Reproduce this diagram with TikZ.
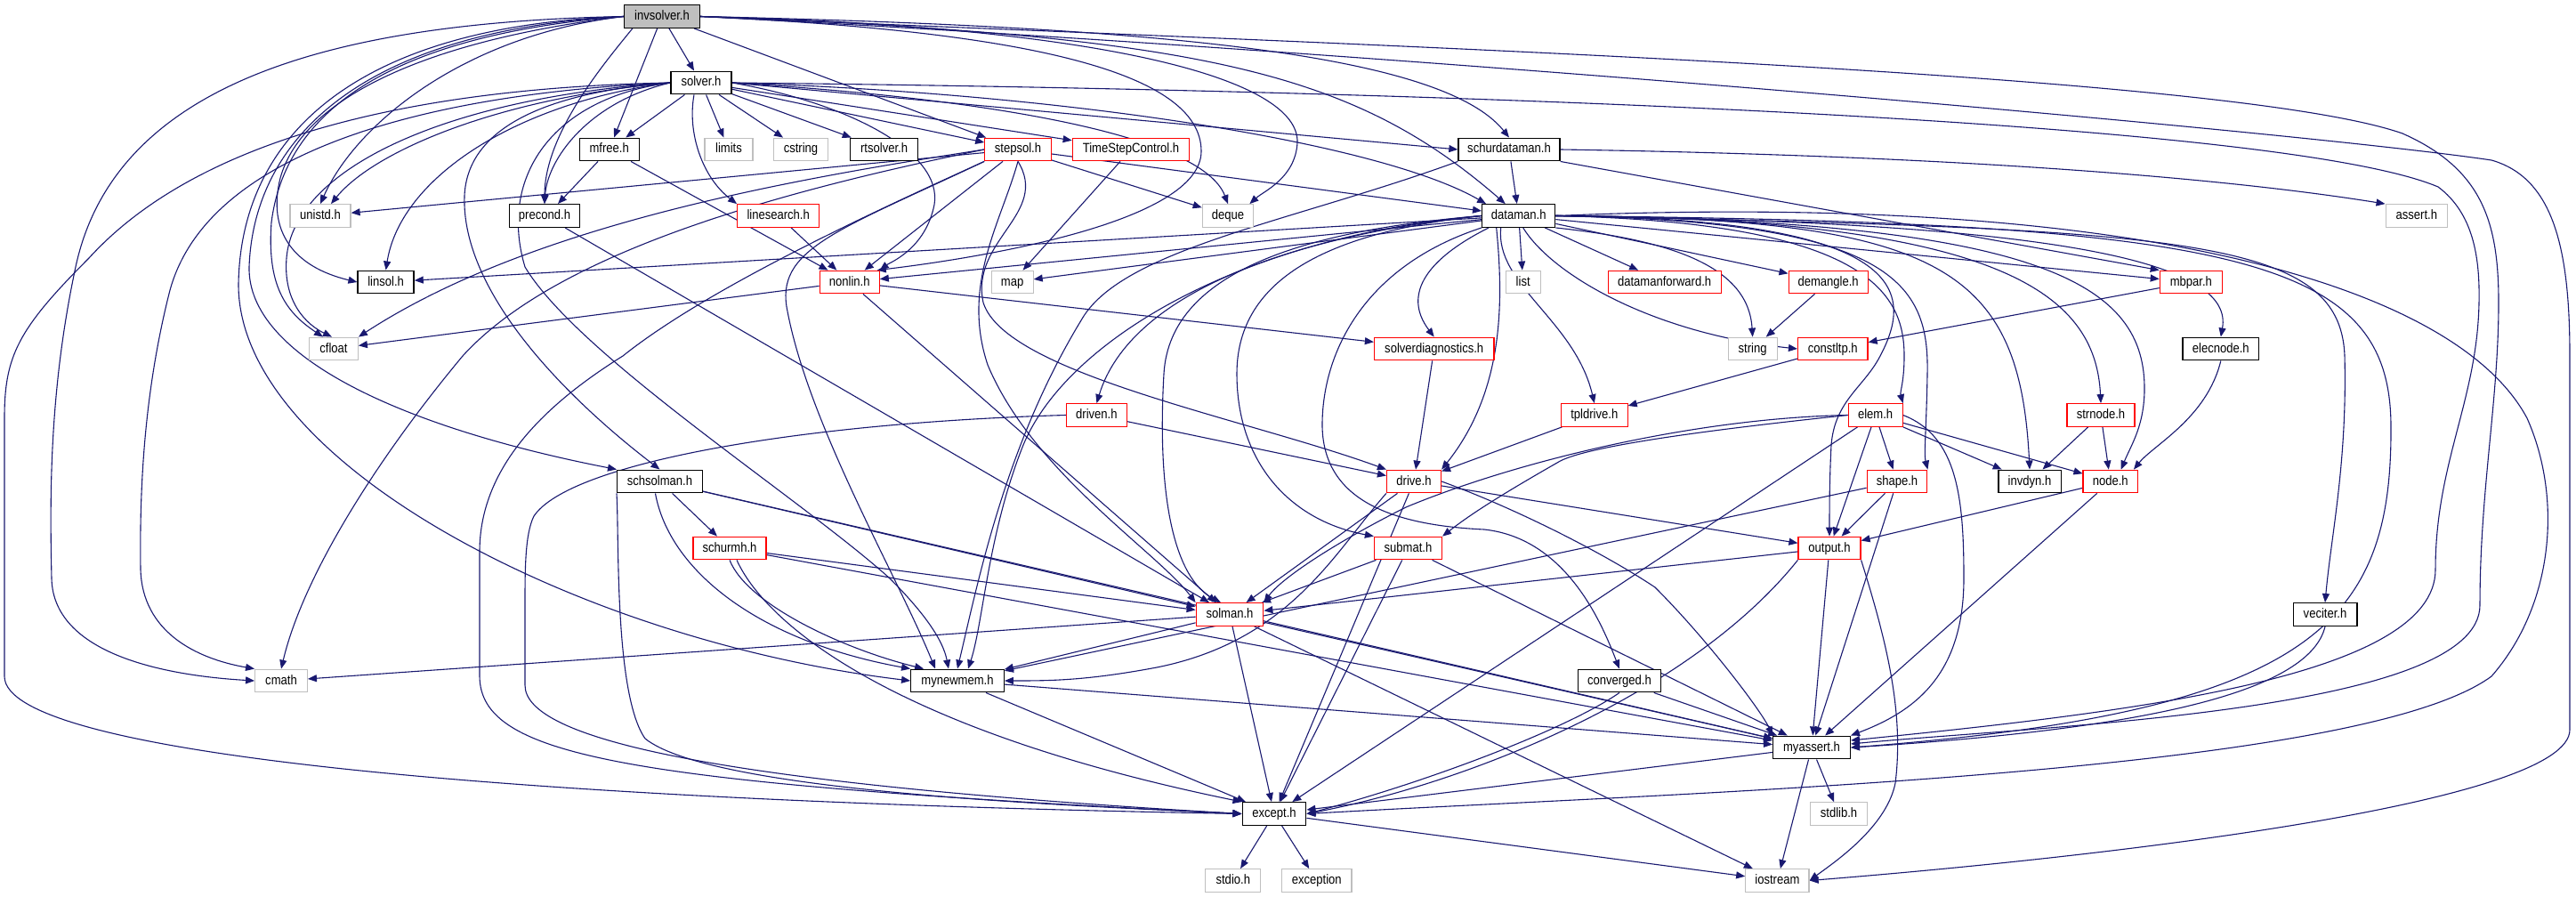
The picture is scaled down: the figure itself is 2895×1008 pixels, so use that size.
\documentclass[tikz,border=0pt]{standalone}
\usepackage{fontspec}
\newfontfamily\nf[FakeStretch=0.87]{Liberation Sans}
\usetikzlibrary{arrows.meta,calc,backgrounds}
\definecolor{edgec}{HTML}{191970}
\definecolor{gryb}{HTML}{BFBFBF}
\definecolor{redb}{HTML}{FF0000}
\tikzset{
  box/.style={draw=black, line width=1.35pt, minimum height=25.6pt, inner sep=0pt, text height=11pt, text depth=3pt, font=\nf\fontsize{15}{18}\selectfont, fill=white},
  rbox/.style={box, draw=redb, line width=1.2pt},
  gbox/.style={box, draw=gryb, line width=1.2pt},
  e/.style={draw=edgec, line width=1.1pt, -{Triangle[length=10pt,width=8pt]}},
}
\begin{document}
\begin{tikzpicture}[x=1pt,y=-1pt]
\useasboundingbox (0,0) rectangle (2895,1008);
% nodes
\node[box, fill=gryb, minimum width=85pt] (invsolver) at (744,18.5) {invsolver.h};
\node[box, minimum width=68pt] (solver) at (788,93) {solver.h};
\node[box, minimum width=67pt] (mfree) at (684.7,168) {mfree.h};
\node[gbox, minimum width=54pt] (limits) at (819,168) {limits};
\node[gbox, minimum width=61pt] (cstring) at (900,168) {cstring};
\node[box, minimum width=76pt] (rtsolver) at (993.6,168) {rtsolver.h};
\node[rbox, minimum width=74.5pt] (stepsol) at (1144,168) {stepsol.h};
\node[rbox, minimum width=131.5pt] (tsc) at (1271,168) {TimeStepControl.h};
\node[box, minimum width=114pt] (schurdataman) at (1696,168) {schurdataman.h};
\node[gbox, minimum width=68pt] (unistd) at (360,242.5) {unistd.h};
\node[box, minimum width=78.5pt] (precond) at (612,242.5) {precond.h};
\node[rbox, minimum width=92pt] (linesearch) at (874.7,242.5) {linesearch.h};
\node[gbox, minimum width=57.5pt] (deque) at (1380,242.5) {deque};
\node[box, minimum width=82pt] (dataman) at (1706.7,242.5) {dataman.h};
\node[gbox, minimum width=69.4pt] (assert) at (2715.8,242.5) {assert.h};
\node[box, minimum width=63pt] (linsol) at (433.6,317) {linsol.h};
\node[rbox, minimum width=67pt] (nonlin) at (954.7,317) {nonlin.h};
\node[gbox, minimum width=47pt] (map) at (1137.6,317) {map};
\node[gbox, minimum width=39pt] (list) at (1711.7,317) {list};
\node[rbox, minimum width=127pt] (datamanforward) at (1870.6,317) {datamanforward.h};
\node[rbox, minimum width=89pt] (demangle) at (2054.6,317) {demangle.h};
\node[rbox, minimum width=70pt] (mbpar) at (2462.3,317) {mbpar.h};
\node[gbox, minimum width=54.6pt] (cfloat) at (375,392) {cfloat};
\node[rbox, minimum width=134.5pt] (solverdiag) at (1611.7,392) {solverdiagnostics.h};
\node[gbox, minimum width=55pt] (string) at (1969.6,392) {string};
\node[rbox, minimum width=78.5pt] (constltp) at (2059.8,392) {constltp.h};
\node[box, minimum width=85.5pt] (elecnode) at (2495.8,392) {elecnode.h};
\node[rbox, minimum width=68pt] (driven) at (1232.4,466.5) {driven.h};
\node[rbox, minimum width=74.6pt] (tpldrive) at (1791.8,466.5) {tpldrive.h};
\node[rbox, minimum width=61pt] (elem) at (2107.6,466.5) {elem.h};
\node[rbox, minimum width=76pt] (strnode) at (2361,466.5) {strnode.h};
\node[box, minimum width=95.7pt] (schsolman) at (741.5,541) {schsolman.h};
\node[rbox, minimum width=61pt] (drive) at (1589,541) {drive.h};
\node[rbox, minimum width=67.7pt] (shapeh) at (2132,541) {shape.h};
\node[box, minimum width=70.3pt] (invdyn) at (2281,541) {invdyn.h};
\node[rbox, minimum width=61.3pt] (nodeh) at (2371.7,541) {node.h};
\node[rbox, minimum width=82pt] (schurmh) at (820,616) {schurmh.h};
\node[rbox, minimum width=76pt] (submat) at (1582.5,616) {submat.h};
\node[rbox, minimum width=70pt] (output) at (2056,616) {output.h};
\node[rbox, minimum width=75.6pt] (solman) at (1382,690.5) {solman.h};
\node[box, minimum width=71.7pt] (veciter) at (2613,690.5) {veciter.h};
\node[gbox, minimum width=58.7pt] (cmath) at (316,765) {cmath};
\node[box, minimum width=104.5pt] (mynewmem) at (1076,765) {mynewmem.h};
\node[box, minimum width=93.3pt] (converged) at (1819.9,765) {converged.h};
\node[box, minimum width=86.6pt] (myassert) at (2036,840) {myassert.h};
\node[box, minimum width=71.6pt] (except) at (1432,914.5) {except.h};
\node[gbox, minimum width=64pt] (stdlib) at (2066.5,914.5) {stdlib.h};
\node[gbox, minimum width=62pt] (stdio) at (1385.8,989.5) {stdio.h};
\node[gbox, minimum width=78.5pt] (exception) at (1479.8,989.5) {exception};
\node[gbox, minimum width=71.3pt] (iostream) at (1997.4,989.5) {iostream};

\begin{scope}[on background layer]
\fill[white] (0,0) rectangle (2895,1008);
% invsolver
\draw[e] (invsolver) -- (solver);
\draw[e] (invsolver) -- (stepsol);
\draw[e] (invsolver) -- (mfree);
\draw[e] ($(invsolver.south west)+(10,0)$) .. controls (680,70) and (612,150) .. (precond.north);
\draw[e] (invsolver.west) .. controls (520,40) and (400,140) .. (unistd.north);
\draw[e] (invsolver.west) .. controls (480,45) and (340,110) .. (315,200) .. controls (300,260) and (330,300) .. (linsol.west);
\draw[e] (invsolver.west) .. controls (430,40) and (320,130) .. (305,250) .. controls (300,320) and (320,350) .. ($(cfloat.north)+(-12,0)$);
\draw[e] (invsolver.west) .. controls (380,25) and (130,90) .. (85,300) .. controls (55,440) and (56,560) .. (58,650) .. controls (60,740) and (200,760) .. (cmath.west);
\draw[e] (invsolver.west) .. controls (400,35) and (285,160) .. (280,300) .. controls (278,400) and (450,480) .. (schsolman.north west);
\draw[e] (invsolver.west) .. controls (390,30) and (270,160) .. (268,320) .. controls (268,520) and (650,720) .. (mynewmem.west);
\draw[e] (invsolver.east) .. controls (1150,35) and (1350,80) .. (1350,170) .. controls (1350,250) and (1100,290) .. ($(nonlin.north east)+(-3,0)$);
\draw[e] (invsolver.east) .. controls (1250,30) and (1460,90) .. (1458,160) .. controls (1456,200) and (1420,215) .. ($(deque.north east)+(-5,0)$);
\draw[e] (invsolver.east) .. controls (1300,30) and (1620,60) .. (schurdataman.north);
\draw[e] (invsolver.east) .. controls (1350,40) and (1520,80) .. ($(dataman.north)+(-15,0)$);
\draw[e] (invsolver.east) .. controls (1500,50) and (2500,80) .. (2700,150) .. controls (2790,190) and (2808,250) .. (2808,340) .. controls (2808,450) and (2787,550) .. (2787,680) .. controls (2787,800) and (2300,815) .. ($(myassert.east)+(0,-4)$);
\draw[e] (invsolver.east) .. controls (1600,60) and (2600,150) .. (2800,180) .. controls (2870,200) and (2888,280) .. (2888,400) -- (2888,820) .. controls (2888,900) and (2400,960) .. (iostream.east);
% solver
\draw[e] (solver) -- (mfree);
\draw[e] (solver) -- (limits);
\draw[e] (solver) -- (cstring);
\draw[e] (solver) -- (rtsolver);
\draw[e] (solver) -- (stepsol);
\draw[e] (solver) -- (tsc);
\draw[e] (solver.east) -- (schurdataman.west);
\draw[e] (solver.east) .. controls (1200,105) and (1550,160) .. ($(dataman.north west)+(5,0)$);
\draw[e] (solver.east) .. controls (950,115) and (1060,170) .. (1050,230) .. controls (1040,280) and (1000,295) .. (nonlin.north east);
\draw[e] (solver.east) .. controls (1100,110) and (1350,150) .. (deque.north);
\draw[e] ($(solver.south)+(-8,0)$) .. controls (772,150) and (790,200) .. (linesearch.north west);
\draw[e] (solver.west) .. controls (560,110) and (420,170) .. ($(unistd.north)+(12,0)$);
\draw[e] (solver.west) .. controls (580,115) and (450,200) .. (linsol.north);
\draw[e] (solver.west) .. controls (660,115) and (615,180) .. (precond.north);
\draw[e] (solver.west) .. controls (500,110) and (330,190) .. (322,290) .. controls (318,340) and (345,365) .. ($(cfloat.north)+(-2,0)$);
\draw[e] (solver.west) .. controls (480,105) and (230,170) .. (190,330) .. controls (160,450) and (157,560) .. (158,640) .. controls (160,710) and (220,740) .. (cmath.north west);
\draw[e] (solver.west) .. controls (400,100) and (200,180) .. (100,290) .. controls (20,370) and (5,400) .. (5,470) -- (5,760) .. controls (5,850) and (600,900) .. (except.west);
\draw[e] (solver.west) .. controls (600,105) and (525,150) .. (522,220) .. controls (518,330) and (640,450) .. (schsolman.north);
\draw[e] (solver.west) .. controls (620,110) and (560,200) .. (590,300) .. controls (650,400) and (900,560) .. (1000,650) .. controls (1040,690) and (1060,720) .. ($(mynewmem.north)+(-10,0)$);
\draw[e] (solver.east) .. controls (1500,100) and (2550,130) .. (2740,210) .. controls (2780,240) and (2787,290) .. (2786,340) .. controls (2784,450) and (2737,520) .. (2737,640) .. controls (2737,760) and (2400,800) .. ($(myassert.east)+(0,-8)$);
% mfree, precond, linesearch
\draw[e] (mfree) -- ($(precond.north)+(15,0)$);
\draw[e] (mfree) -- (nonlin);
\draw[e] (precond) -- (solman);
\draw[e] (linesearch) -- (nonlin);
% stepsol
\draw[e] (stepsol) -- (unistd);
\draw[e] (stepsol.west) .. controls (900,200) and (600,250) .. (cfloat.north east);
\draw[e] (stepsol.west) .. controls (850,220) and (620,290) .. (520,400) .. controls (420,520) and (340,650) .. (cmath.north);
\draw[e] (stepsol) -- (nonlin);
\draw[e] (stepsol) -- (deque);
\draw[e] (stepsol) -- (dataman);
\draw[e] (stepsol.south) .. controls (1180,240) and (1090,270) .. (1105,340) .. controls (1130,420) and (1400,470) .. (drive.north west);
\draw[e] (stepsol.south) .. controls (1125,250) and (1080,320) .. (1110,410) .. controls (1160,530) and (1300,620) .. (solman.north west);
\draw[e] (stepsol.south west) .. controls (940,260) and (870,280) .. (885,350) .. controls (910,480) and (1010,650) .. ($(mynewmem.north)+(-25,0)$);
\draw[e] (stepsol.south west) .. controls (1000,230) and (800,320) .. (700,400) .. controls (620,450) and (539,520) .. (539,620) -- (539,760) .. controls (540,850) and (700,880) .. (except.west);
% tsc, schurdataman
\draw[e] (tsc) -- (map);
\draw[e] (schurdataman) -- (dataman);
\draw[e] (schurdataman.east) .. controls (2200,175) and (2500,200) .. (assert.north west);
\draw[e] (schurdataman.south east) -- (mbpar.north west);
\draw[e] (schurdataman.south west) .. controls (1450,250) and (1260,280) .. (1215,360) .. controls (1130,500) and (1100,650) .. (mynewmem.north);
% dataman
\draw[e] (dataman) -- (linsol);
\draw[e] (dataman) -- (nonlin);
\draw[e] (dataman) -- (map);
\draw[e] (dataman) -- (list);
\draw[e] (dataman) -- (datamanforward);
\draw[e] (dataman) -- (demangle);
\draw[e] (dataman) -- (mbpar);
\draw[e] (dataman.south east) .. controls (1880,270) and (1965,300) .. (string.north);
\draw[e] ($(dataman.south)+(5,0)$) .. controls (1745,310) and (1860,375) .. (constltp.west);
\draw[e] ($(dataman.south west)+(8,0)$) .. controls (1605,290) and (1575,330) .. (solverdiag.north);
\draw[e] ($(dataman.south)+(-20,0)$) .. controls (1680,320) and (1770,360) .. (tpldrive.north);
\draw[e] ($(dataman.south)+(-25,0)$) .. controls (1690,340) and (1690,440) .. (drive.north east);
\draw[e] (dataman.west) .. controls (1450,265) and (1270,330) .. (driven.north);
\draw[e] (dataman.west) .. controls (1480,262) and (1390,320) .. (1390,420) .. controls (1390,520) and (1450,585) .. (submat.north west);
\draw[e] (dataman.west) .. controls (1480,258) and (1315,300) .. (1308,420) .. controls (1300,560) and (1320,650) .. ($(solman.north)+(-10,0)$);
\draw[e] (dataman.west) .. controls (1400,265) and (1200,380) .. (1150,500) .. controls (1110,600) and (1105,700) .. ($(mynewmem.north)+(12,0)$);
\draw[e] (dataman.south west) .. controls (1530,300) and (1485,400) .. (1486,480) .. controls (1488,560) and (1560,590) .. (1668,595) .. controls (1760,605) and (1800,700) .. (converged.north);
\draw[e] (dataman.east) .. controls (2150,245) and (2150,330) .. (2113,400) .. controls (2095,435) and (2062,450) .. (2058,500) .. controls (2056,540) and (2056,570) .. (output.north);
\draw[e] (dataman.east) .. controls (2100,250) and (2140,330) .. (2140,400) .. controls (2140,430) and (2135,440) .. (elem.north east);
\draw[e] (dataman.east) .. controls (2130,248) and (2168,320) .. (2166,420) .. controls (2165,480) and (2162,510) .. (shapeh.north east);
\draw[e] (dataman.east) .. controls (2180,245) and (2270,300) .. (invdyn.north);
\draw[e] (dataman.east) .. controls (2250,245) and (2355,330) .. (strnode.north);
\draw[e] (dataman.east) .. controls (2300,248) and (2412,320) .. (2410,440) .. controls (2409,480) and (2395,500) .. ($(nodeh.north)+(12,0)$);
\draw[e] (dataman.east) .. controls (2350,250) and (2510,300) .. (elecnode.north);
\draw[e] (dataman.east) .. controls (2450,258) and (2630,265) .. (2635,400) .. controls (2638,520) and (2620,600) .. (veciter.north);
\draw[e] (dataman.east) .. controls (2520,250) and (2687,290) .. (2687,480) .. controls (2688,700) and (2600,800) .. (myassert.east);
\draw[e] (dataman.east) .. controls (2400,215) and (2760,320) .. (2840,470) .. controls (2880,560) and (2870,680) .. (2800,760) .. controls (2650,870) and (1900,890) .. (except.east);
% nonlin
\draw[e] (nonlin) -- (cfloat);
\draw[e] (nonlin) -- (solverdiag);
\draw[e] (nonlin) -- (solman);
% middle
\draw[e] (demangle) -- (string);
\draw[e] (mbpar) -- (constltp);
\draw[e] (constltp) -- (tpldrive);
\draw[e] (solverdiag) -- (drive);
\draw[e] (tpldrive) -- (drive);
\draw[e] (driven) -- (drive);
\draw[e] (driven.west) .. controls (900,475) and (640,520) .. (600,580) .. controls (590,600) and (590,640) .. (590,680) -- (590,770) .. controls (590,830) and (800,880) .. (except.west);
% schsolman, schurmh
\draw[e] (schsolman.south west) .. controls (696,600) and (690,780) .. (725,830) .. controls (800,890) and (1200,905) .. (except.west);
\draw[e] (schsolman) -- (schurmh);
\draw[e] (schsolman) -- (solman);
\draw[e] (schsolman) -- (myassert);
\draw[e] ($(schsolman.south)+(-5,0)$) .. controls (752,640) and (850,720) .. (mynewmem.north west);
\draw[e] (schurmh) -- (solman);
\draw[e] (schurmh) -- (myassert);
\draw[e] (schurmh.south) .. controls (840,680) and (950,730) .. ($(mynewmem.north west)+(15,0)$);
\draw[e] ($(schurmh.south)+(8,0)$) .. controls (860,700) and (1000,820) .. (except.north west);
% elem
\draw[e] (elem) -- (shapeh);
\draw[e] (elem) -- (invdyn);
\draw[e] (elem) -- (nodeh);
\draw[e] (elem) -- (output);
\draw[e] (elem.west) .. controls (1950,480) and (1780,500) .. (1750,520) .. controls (1680,560) and (1650,580) .. (submat.north east);
\draw[e] (elem.west) .. controls (1900,470) and (1700,520) .. (1580,570) .. controls (1500,610) and (1440,650) .. (solman.north east);
\draw[e] (elem.east) .. controls (2200,490) and (2207,560) .. (2207,650) .. controls (2207,760) and (2150,800) .. (myassert.north east);
\draw[e] (elem) -- (except);
% strnode, elecnode
\draw[e] (strnode) -- (invdyn);
\draw[e] (strnode) -- (nodeh);
\draw[e] (elecnode.south) .. controls (2480,470) and (2420,500) .. ($(nodeh.north east)+(-5,0)$);
% drive
\draw[e] (drive) -- (output);
\draw[e] (drive) -- (solman);
\draw[e] (drive.south west) .. controls (1500,620) and (1450,720) .. (1300,750) .. controls (1220,765) and (1180,765) .. (mynewmem.east);
\draw[e] (drive) -- (except);
\draw[e] (drive.east) .. controls (1700,570) and (1800,620) .. (1860,660) .. controls (1920,720) and (1980,800) .. (myassert.north west);
% shape, node, submat
\draw[e] (shapeh) -- (output);
\draw[e] (shapeh) -- (mynewmem);
\draw[e] (shapeh) -- (myassert);
\draw[e] (nodeh) -- (output);
\draw[e] (nodeh) -- (myassert);
\draw[e] (submat) -- (solman);
\draw[e] (submat) -- (myassert);
\draw[e] (submat) -- (except);
% output
\draw[e] (output) -- (myassert);
\draw[e] (output) -- (solman);
\draw[e] (output.south west) .. controls (1900,780) and (1650,880) .. (except.east);
\draw[e] (output.south east) .. controls (2120,720) and (2140,800) .. (2130,880) .. controls (2120,930) and (2060,970) .. (iostream.east);
% solman
\draw[e] (solman) -- (cmath);
\draw[e] (solman) -- (mynewmem);
\draw[e] (solman) -- (myassert);
\draw[e] (solman) -- (except);
\draw[e] (solman) -- (iostream);
% lower
\draw[e] (veciter.south) .. controls (2595,780) and (2400,820) .. (myassert.east);
\draw[e] (mynewmem) -- (myassert);
\draw[e] (mynewmem) -- (except);
\draw[e] (converged) -- (myassert);
\draw[e] (converged.south) .. controls (1760,820) and (1600,880) .. (except.east);
\draw[e] (myassert) -- (except);
\draw[e] (myassert) -- (stdlib);
\draw[e] (myassert) -- (iostream);
\draw[e] (except) -- (stdio);
\draw[e] (except) -- (exception);
\draw[e] (except) -- (iostream);
\end{scope}
\end{tikzpicture}
\end{document}
